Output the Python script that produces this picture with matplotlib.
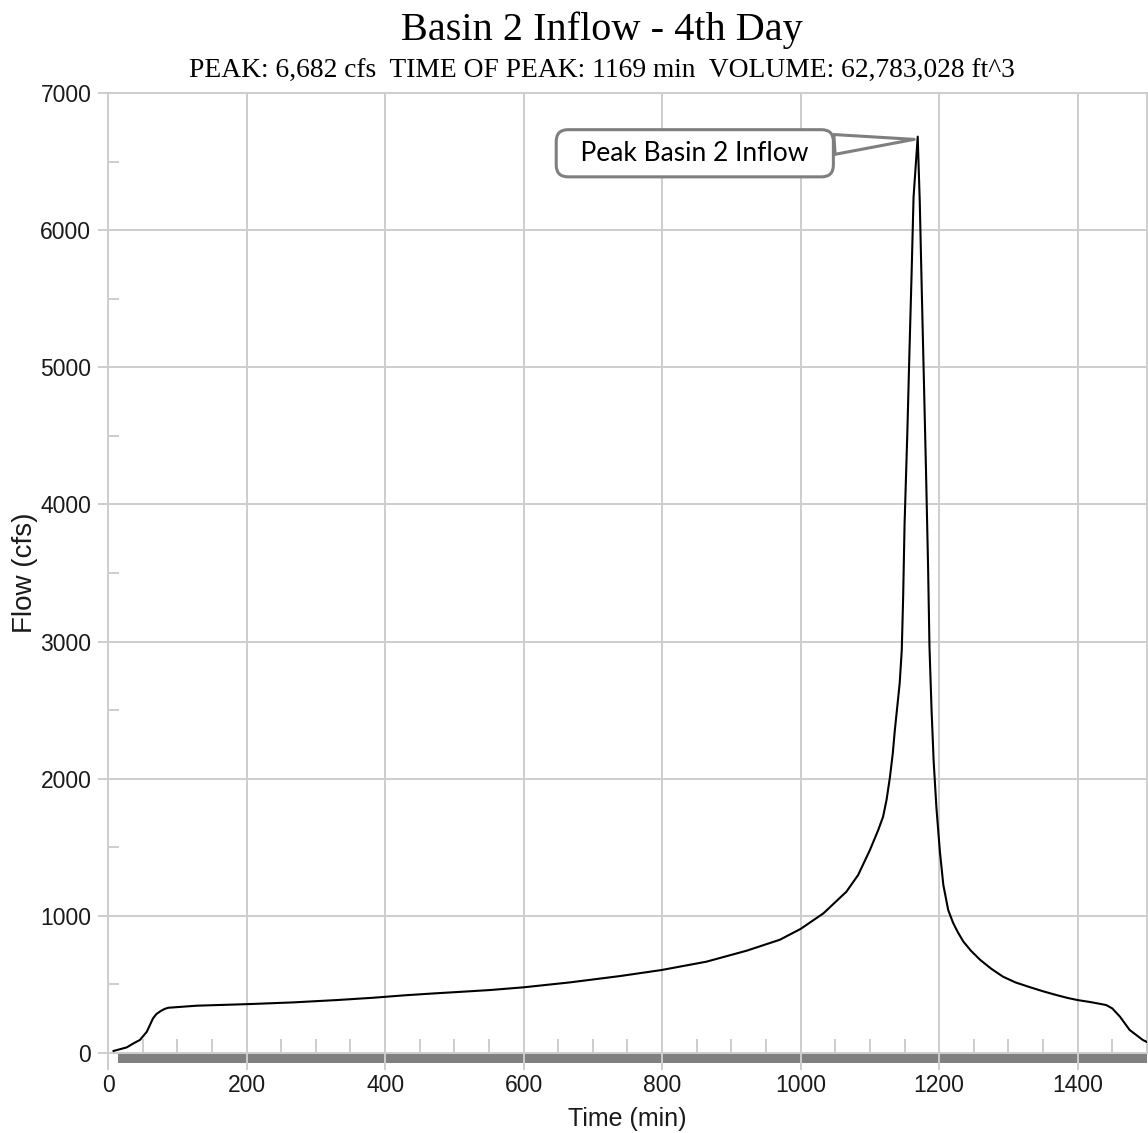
import matplotlib
matplotlib.use("Agg")
import matplotlib.pyplot as plt
import matplotlib.transforms as mtransforms
from matplotlib.patches import Rectangle
from matplotlib.ticker import MultipleLocator

# Basin 2 inflow hydrograph, 4th day (time in minutes, flow in cfs)
time_min = [8, 27, 37, 46, 56, 65, 70, 77, 82, 87, 128, 205, 267, 330, 383,
            429, 472, 512, 551, 600, 667, 739, 799, 864, 922, 970, 1000, 1033,
            1066, 1083, 1100, 1112, 1119, 1124, 1129, 1133, 1136, 1140, 1143,
            1146, 1148, 1150, 1154, 1157, 1160, 1163, 1169, 1172, 1175, 1178,
            1181, 1184, 1186, 1189, 1192, 1196, 1201, 1206, 1213, 1220, 1227,
            1235, 1246, 1259, 1275, 1292, 1310, 1331, 1350, 1369, 1385, 1400,
            1420, 1441, 1450, 1461, 1475, 1494, 1500]
flow_cfs = [15, 41, 71, 95, 155, 253, 285, 309, 322, 330, 345, 357, 369, 386,
            403, 421, 435, 447, 459, 479, 515, 561, 605, 666, 746, 826, 905,
            1019, 1176, 1298, 1480, 1626, 1723, 1845, 2015, 2185, 2355, 2550,
            2698, 2939, 3330, 3850, 4520, 5100, 5650, 6240, 6682, 6200, 5530,
            4890, 4240, 3540, 2960, 2500, 2130, 1790, 1470, 1225, 1043, 950,
            880, 812, 745, 680, 615, 557, 515, 480, 450, 423, 402, 386, 370,
            350, 325, 265, 168, 95, 80]

peak_flow = 6682
peak_time = 1169
volume_ft3 = 62783028
sim_start, sim_end = 14, 1500

grid_c = "#cdcdcd"
text_c = "#1a1a1a"

fig = plt.figure(figsize=(11.48, 11.33), dpi=100)
ax = fig.add_axes([0.0941, 0.0706, 0.905, 0.8473])

ax.plot(time_min, flow_cfs, color="black", lw=1.5, zorder=3)

ax.set_xlim(0, 1500)
ax.set_ylim(0, 7000)
ax.xaxis.set_major_locator(MultipleLocator(200))
ax.xaxis.set_minor_locator(MultipleLocator(50))
ax.yaxis.set_major_locator(MultipleLocator(1000))
ax.yaxis.set_minor_locator(MultipleLocator(500))

ax.set_axisbelow(True)
ax.grid(True, which="major", color=grid_c, lw=1.4)
for s in ax.spines.values():
    s.set_color(grid_c)
    s.set_linewidth(1.4)

ax.tick_params(axis="x", which="major", direction="out", length=12, width=1.4,
               color=grid_c, labelsize=16.5, labelcolor=text_c, pad=3)
ax.tick_params(axis="y", which="major", direction="out", length=7, width=1.4,
               color=grid_c, labelsize=16.5, labelcolor=text_c, pad=5)
ax.tick_params(axis="x", which="minor", direction="in", length=10, width=1.4,
               color=grid_c)
ax.tick_params(axis="y", which="minor", direction="in", length=8, width=1.4,
               color=grid_c)
for lab in ax.get_xticklabels() + ax.get_yticklabels():
    lab.set_fontfamily("Liberation Sans")

# simulation span bar under the time axis
trans = mtransforms.blended_transform_factory(ax.transData, ax.transAxes)
ax.add_patch(Rectangle((sim_start, -0.0105), sim_end - sim_start, 0.0094,
                       transform=trans, color="#808080", clip_on=False,
                       zorder=0.3, lw=0))

ax.set_xlabel("Time (min)", fontsize=18, family="Liberation Sans", color=text_c)
ax.xaxis.set_label_coords(0.5, -0.056)
ax.set_ylabel("Flow (cfs)", fontsize=20, family="Liberation Sans", color=text_c)
ax.yaxis.set_label_coords(-0.067, 0.5)

fig.text(0.524, 0.9647, "Basin 2 Inflow - 4th Day", ha="center",
         va="baseline", fontsize=29, family="Liberation Serif", color="black")
subtitle = (f"PEAK: {peak_flow:,} cfs  TIME OF PEAK: {peak_time} min  "
            f"VOLUME: {volume_ft3:,} ft^3")
fig.text(0.524, 0.931, subtitle, ha="center", va="baseline", fontsize=19.8,
         family="Liberation Serif", color="black")

ax.annotate("  Peak Basin 2 Inflow  ", xy=(peak_time - 5, peak_flow - 20),
            xytext=(-158, -10), textcoords="offset points",
            ha="center", va="center", fontsize=19, family="Lato",
            color="black", zorder=5,
            bbox=dict(boxstyle="round,pad=0.42,rounding_size=0.45",
                      fc="white", ec="#7f7f7f", lw=2.2),
            arrowprops=dict(arrowstyle="wedge,tail_width=0.75,shrink_factor=0.5",
                            fc="white", ec="#7f7f7f", lw=2.2,
                            shrinkA=0, shrinkB=0))

fig.savefig("out.png", dpi=100)
